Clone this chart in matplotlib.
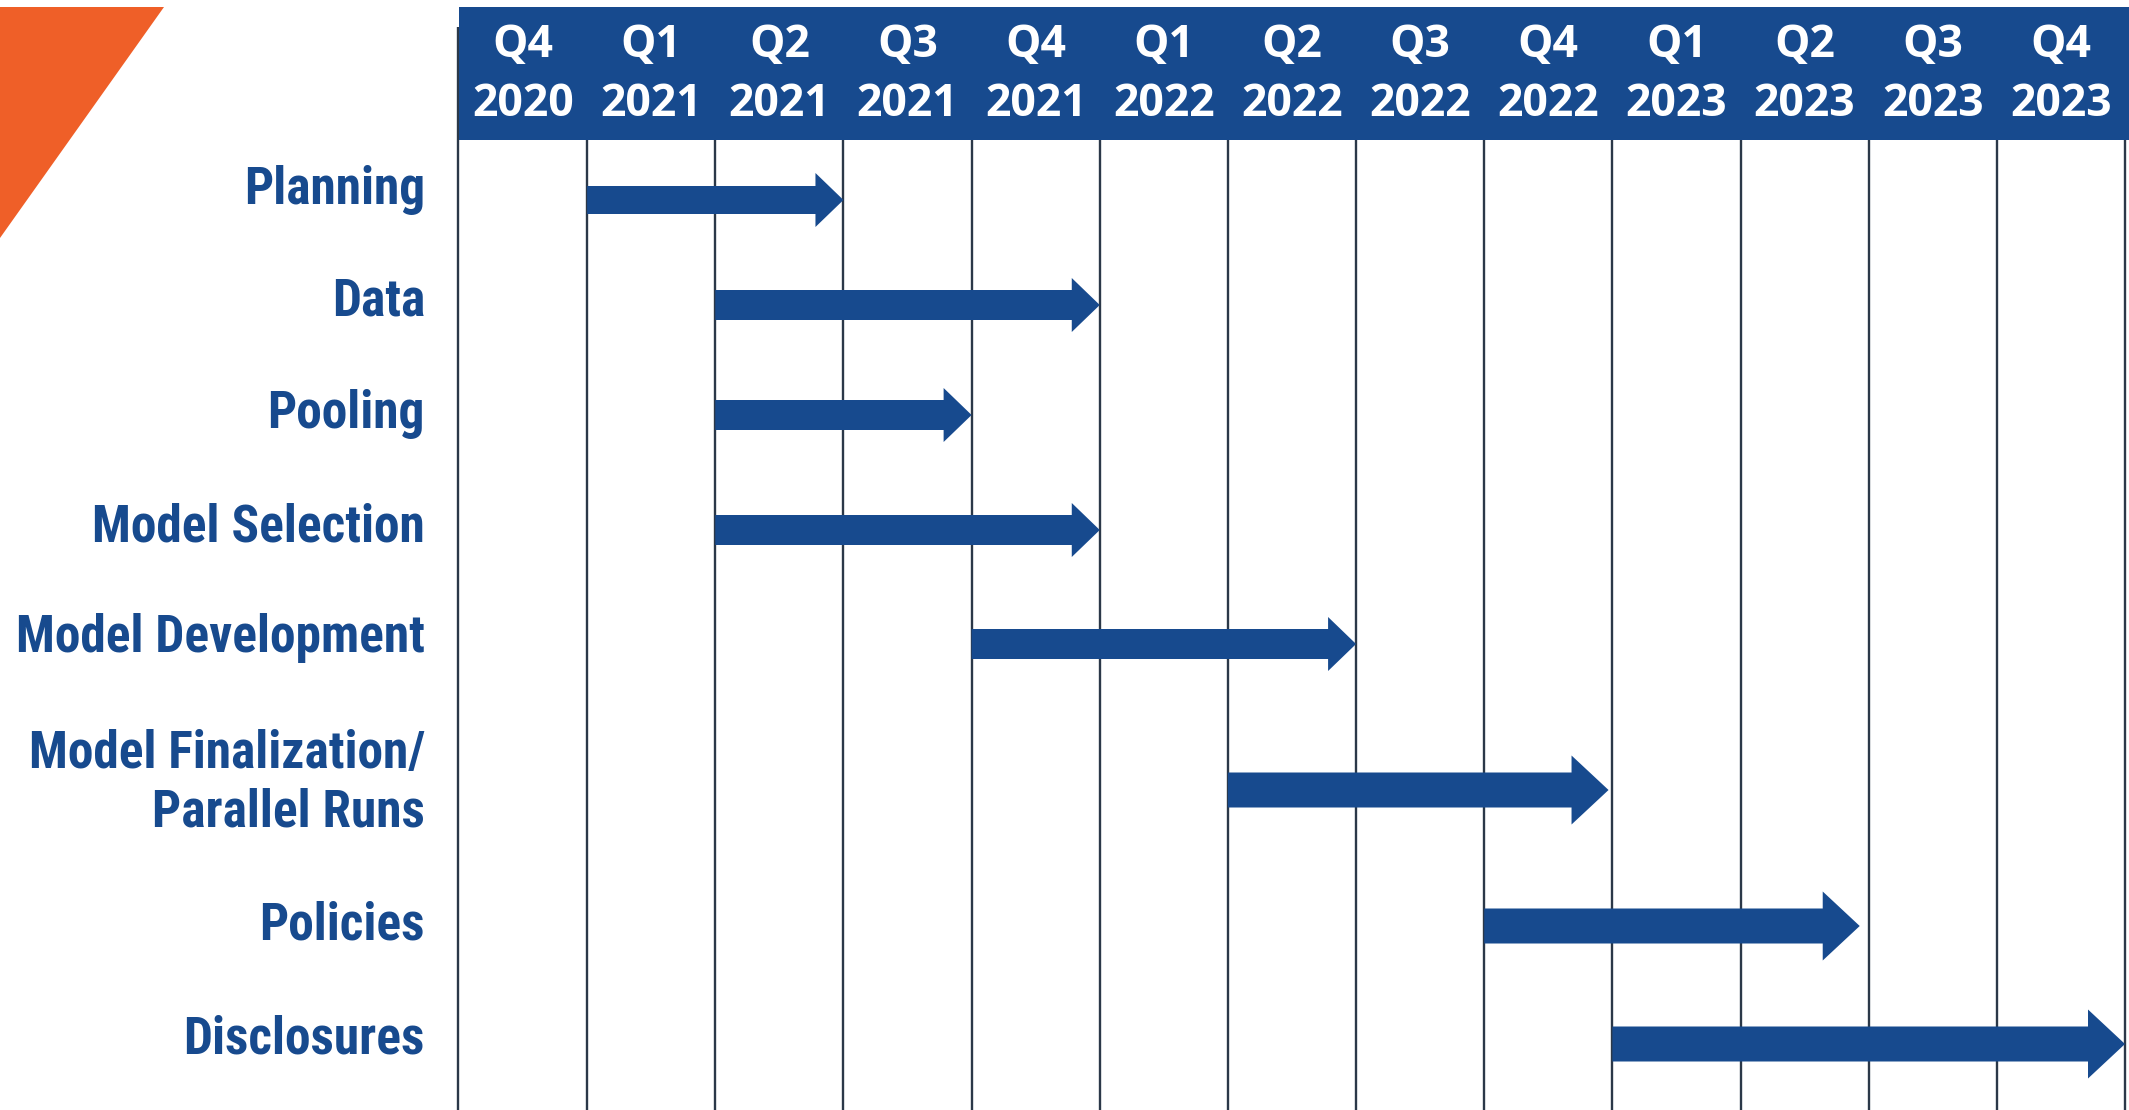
import matplotlib
matplotlib.use("Agg")
import matplotlib.pyplot as plt
from matplotlib.patches import Polygon, Rectangle

# ---- data ----
quarters = ["Q4", "Q1", "Q2", "Q3", "Q4", "Q1", "Q2", "Q3", "Q4", "Q1", "Q2", "Q3", "Q4"]
years = ["2020", "2021", "2021", "2021", "2021", "2022", "2022", "2022", "2022",
         "2023", "2023", "2023", "2023"]
tasks = ["Planning", "Data", "Pooling", "Model Selection", "Model Development",
         "Model Finalization/\nParallel Runs", "Policies", "Disclosures"]
start_q = [1, 2, 2, 2, 4, 6, 8, 9]
end_q = [3, 5, 4, 5, 7, 8.97, 10.93, 13]

# ---- layout (pixels from top) ----
W, H = 2129, 1110
label_y = [190, 301, 414, 527, 638, 783, 926, 1039]
arrow_y = [200, 305, 415, 530, 644, 790, 926, 1044]
shaft = [28, 30, 30, 30, 30, 35, 35, 35]
head = [54, 54, 54, 54, 54, 69, 69, 69]
headlen = [28, 28, 28, 28, 28, 37, 37, 37]

BLUE = "#174A8E"
ORANGE = "#EF5F28"
GRID = "#2B3848"

fig = plt.figure(figsize=(W / 100, H / 100), dpi=100)
fig.patch.set_facecolor("white")

bg = fig.add_axes([0, 0, 1, 1])
bg.set_xlim(0, W)
bg.set_ylim(H, 0)
bg.axis("off")
bg.add_patch(Polygon([(0, 7), (164, 7), (0, 238)], closed=True, color=ORANGE, lw=0))

x0, x1 = 459, 2125
ax = fig.add_axes([x0 / W, 0, (x1 - x0) / W, 1])
ax.set_xlim(0, len(quarters))
ax.set_ylim(H, 0)
ax.axis("off")
px = len(quarters) / (x1 - x0)  # data units per pixel in x

# header band
ax.add_patch(Rectangle((0, 7), len(quarters) + 6 * px, 133, color=BLUE, lw=0,
                       clip_on=False, zorder=3))
hdr_font = ["Open Sans", "DejaVu Sans"]
for i, (q, yr) in enumerate(zip(quarters, years)):
    ax.text(i + 0.5, 46, q, ha="center", va="center", color="white",
            fontsize=32, fontweight="bold", family=hdr_font, zorder=4)
    ax.text(i + 0.5, 104, yr, ha="center", va="center", color="white",
            fontsize=32, fontweight="bold", family=hdr_font, zorder=4)

# grid lines
for i in range(len(quarters) + 1):
    top = 27 if i == 0 else 140
    xi = i - 1.5 * px if i == 0 else i
    ax.plot([xi, xi], [top, H], color=GRID, lw=1.7, solid_capstyle="butt",
            zorder=1, clip_on=False)

# arrows
for k in range(len(tasks)):
    s, e, y = start_q[k], end_q[k], arrow_y[k]
    hl = headlen[k] * px
    sh, hh = shaft[k] / 2, head[k] / 2
    pts = [(s, y - sh), (e - hl, y - sh), (e - hl, y - hh), (e, y),
           (e - hl, y + hh), (e - hl, y + sh), (s, y + sh)]
    ax.add_patch(Polygon(pts, closed=True, color=BLUE, lw=0, zorder=2, clip_on=False))

# row labels
for k, t in enumerate(tasks):
    bg.text(425, label_y[k], t, ha="right", va="center", color=BLUE,
            fontsize=37, fontweight="bold", linespacing=1.22,
            family=["Liberation Sans Narrow", "Roboto Condensed", "Liberation Sans"])

fig.savefig("out.png", dpi=100, facecolor="white")
